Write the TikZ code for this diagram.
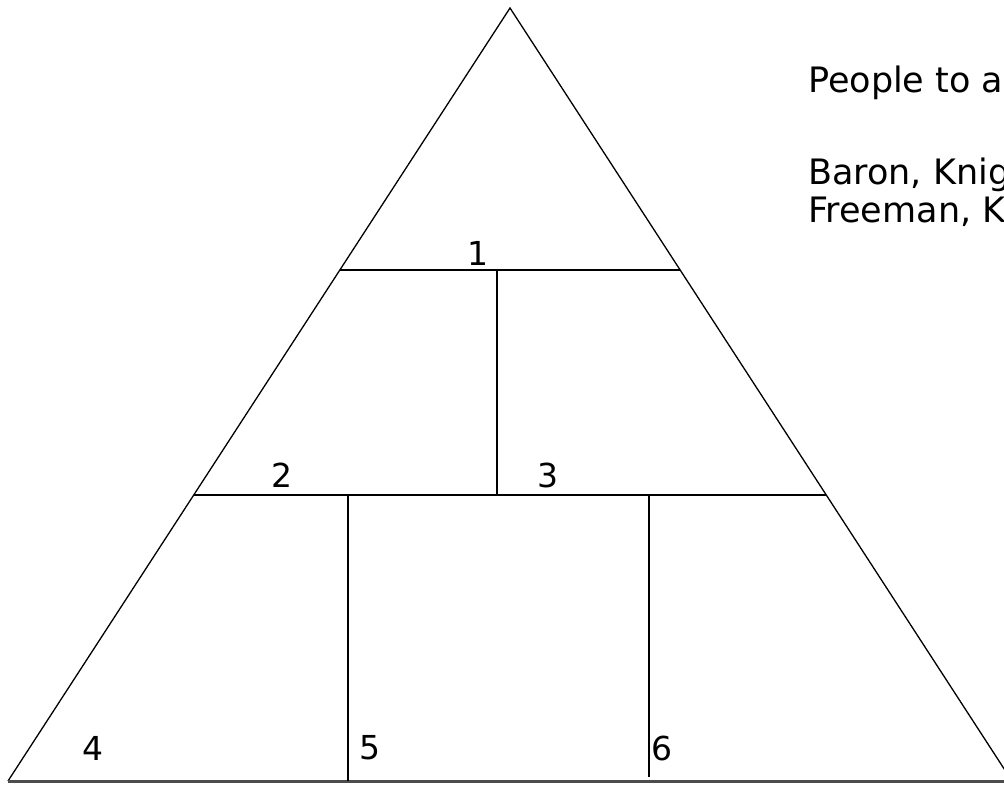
\documentclass[tikz,border=0pt]{standalone}
\usepackage{fontspec}
\setmainfont{DejaVu Sans}
\usetikzlibrary{calc}
\tikzset{side/.style={line width=1.3pt,black},
  rule/.style={line width=2pt,black},
  floor/.style={line width=3pt,black!70},
  num/.style={font=\fontsize{33}{40}\selectfont,inner sep=0pt},
  note/.style={font=\fontsize{35}{42}\selectfont,inner sep=0pt,anchor=base west}}

\begin{document}
\begin{tikzpicture}[x=1pt,y=-1pt]
  \clip (0,0) rectangle (1004,785);
  \fill[white] (0,0) rectangle (1004,785);
  \coordinate (apex) at (510,8);
  \coordinate (bl) at (8,781);
  \coordinate (br) at (1012,781);
  \coordinate (l1) at ($(apex)!0.339!(bl)$);
  \coordinate (r1) at ($(apex)!0.339!(br)$);
  \coordinate (l2) at ($(apex)!0.630!(bl)$);
  \coordinate (r2) at ($(apex)!0.630!(br)$);
  \coordinate (m1) at (497,270);
  \coordinate (m2) at (497,495);
  \coordinate (a2) at (348,495);
  \coordinate (a3) at (348,781);
  \coordinate (b2) at (649,495);
  \coordinate (b3) at (649,777);
  \draw[side] (bl) -- (apex) -- (br);
  \draw[floor] (bl) -- (br);
  \draw[rule] (l1) -- (r1);
  \draw[rule] (l2) -- (r2);
  \draw[rule] (m1) -- (m2);
  \draw[rule] (a2) -- (a3);
  \draw[rule] (b2) -- (b3);
  \node[num] (n1) at (478,253) {1};
  \node[num] (n2) at (282,475) {2};
  \node[num] (n3) at (548,475) {3};
  \node[num] (n4) at (93,748) {4};
  \node[num] (n5) at (370,748) {5};
  \node[num] (n6) at (662,748) {6};
  \node[note] (who) at (808,92) {People to a};
  \node[note] (rank1) at (808,184) {Baron, Knig};
  \node[note] (rank2) at (808,222) {Freeman, K};
\end{tikzpicture}
\end{document}
